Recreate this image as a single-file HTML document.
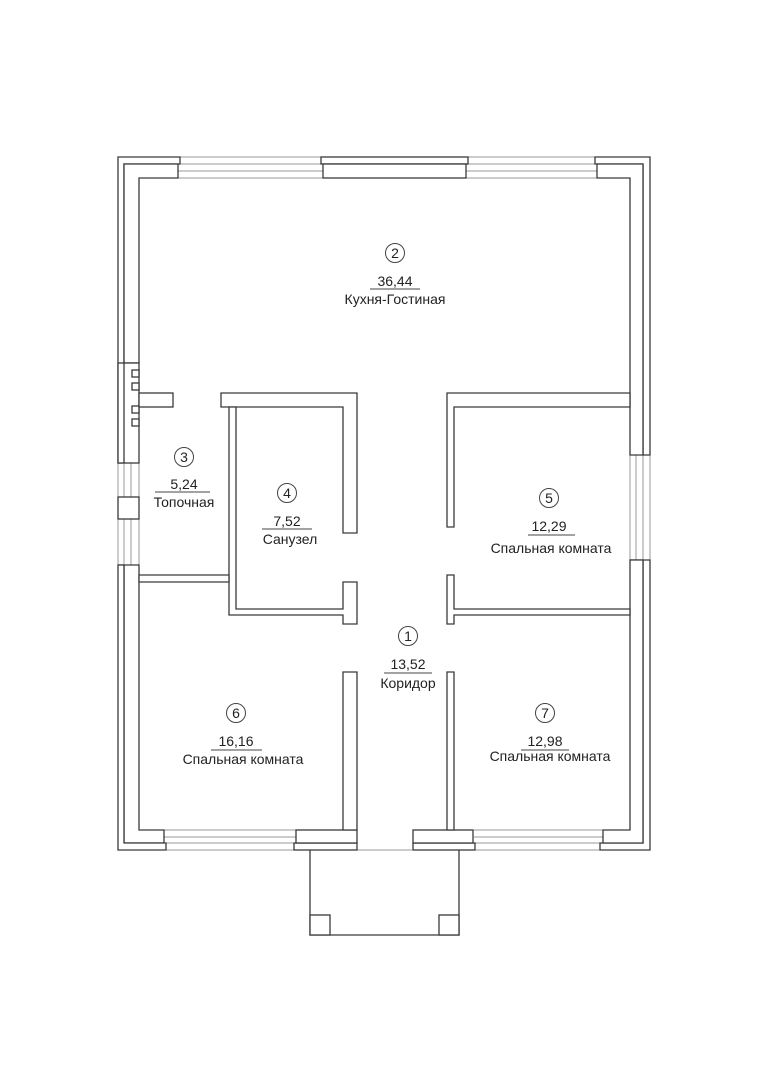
<!DOCTYPE html>
<html><head><meta charset="utf-8"><style>
html,body{margin:0;padding:0;background:#fff;}
svg{display:block}
text{font-family:"Liberation Sans","DejaVu Sans",sans-serif;fill:#222;}
</style></head><body>
<svg width="764" height="1080" viewBox="0 0 764 1080" xmlns="http://www.w3.org/2000/svg">
<g fill="#fff" stroke="#3a3a3a" stroke-width="1.3">
<g stroke="#999" stroke-width="1">
<line x1="178" y1="157" x2="323" y2="157"/><line x1="178" y1="164" x2="323" y2="164"/><line x1="178" y1="171" x2="323" y2="171"/><line x1="178" y1="178" x2="323" y2="178"/>
<line x1="466" y1="157" x2="597" y2="157"/><line x1="466" y1="164" x2="597" y2="164"/><line x1="466" y1="171" x2="597" y2="171"/><line x1="466" y1="178" x2="597" y2="178"/>
<line x1="164" y1="830" x2="296" y2="830"/><line x1="164" y1="837" x2="296" y2="837"/><line x1="164" y1="843" x2="296" y2="843"/><line x1="164" y1="850" x2="296" y2="850"/>
<line x1="474" y1="830" x2="603" y2="830"/><line x1="474" y1="837" x2="603" y2="837"/><line x1="474" y1="843" x2="603" y2="843"/><line x1="474" y1="850" x2="603" y2="850"/>
<line x1="630" y1="455" x2="630" y2="560"/><line x1="636" y1="455" x2="636" y2="560"/><line x1="643" y1="455" x2="643" y2="560"/><line x1="650" y1="455" x2="650" y2="560"/>
<line x1="118" y1="463" x2="118" y2="565"/><line x1="124" y1="463" x2="124" y2="565"/><line x1="131" y1="463" x2="131" y2="565"/><line x1="139" y1="463" x2="139" y2="565"/>
<line x1="356" y1="850" x2="412" y2="850"/>
</g>
<path d="M118,463 L118,157 L180,157 L180,164 L124,164 L124,463 Z"/>
<path d="M124,363 L124,164 L178,164 L178,178 L139,178 L139,363 Z"/>
<rect x="118" y="363" width="21" height="100"/>
<line x1="124" y1="363" x2="124" y2="463"/>
<rect x="132" y="370" width="7" height="7"/><rect x="132" y="383" width="7" height="7"/>
<rect x="132" y="406" width="7" height="7"/><rect x="132" y="419" width="7" height="7"/>
<rect x="118" y="497" width="21" height="22"/>
<rect x="321" y="157" width="147" height="7"/>
<rect x="323" y="164" width="143" height="14"/>
<path d="M595,157 L650,157 L650,455 L643,455 L643,164 L595,164 Z"/>
<path d="M597,164 L643,164 L643,455 L630,455 L630,178 L597,178 Z"/>
<path d="M630,560 L650,560 L650,850 L600,850 L600,843 L643,843 L643,560 Z"/>
<path d="M630,560 L643,560 L643,843 L603,843 L603,830 L630,830 Z"/>
<path d="M118,565 L139,565 L139,830 L164,830 L164,843 L124,843 L124,565 Z"/>
<path d="M118,565 L124,565 L124,843 L166,843 L166,850 L118,850 Z"/>
<rect x="294" y="843" width="63" height="7"/><rect x="296" y="830" width="61" height="13"/>
<rect x="413" y="843" width="62" height="7"/><rect x="413" y="830" width="60" height="13"/>
<path d="M310,850 L310,935 L459,935 L459,850" fill="none"/>
<rect x="310" y="915" width="20" height="20"/><rect x="439" y="915" width="20" height="20"/>
<path d="M343,672 L357,672 L357,830 L343,830 Z"/>
<path d="M447,672 L454,672 L454,830 L447,830 Z"/>
<rect x="139" y="393" width="34" height="14"/>
<path d="M221,393 L357,393 L357,533 L343,533 L343,407 L221,407 Z"/>
<path d="M229,407 L236,407 L236,609 L343,609 L343,582 L357,582 L357,624 L343,624 L343,615 L229,615 Z"/>
<path d="M139,575 L229,575 L229,582 L139,582 Z"/>
<path d="M447,393 L630,393 L630,407 L454,407 L454,527 L447,527 Z"/>
<path d="M447,575 L454,575 L454,609 L630,609 L630,615 L454,615 L454,624 L447,624 Z"/>
</g>
<g fill="none" stroke="#444" stroke-width="1">
<circle cx="395" cy="253" r="9.5"/><line x1="370" y1="289" x2="420" y2="289"/>
<circle cx="184" cy="457" r="9.5"/><line x1="155" y1="492" x2="210" y2="492"/>
<circle cx="287" cy="493" r="9.5"/><line x1="262" y1="529" x2="312" y2="529"/>
<circle cx="549" cy="498" r="9.5"/><line x1="528" y1="535" x2="575" y2="535"/>
<circle cx="408" cy="636" r="9.5"/><line x1="384" y1="673" x2="432" y2="673"/>
<circle cx="236" cy="713" r="9.5"/><line x1="211" y1="750" x2="262" y2="750"/>
<circle cx="545" cy="713" r="9.5"/><line x1="521" y1="750" x2="569" y2="750"/>
</g>
<g font-size="14" text-anchor="middle">
<text x="395" y="258">2</text><text x="395" y="286">36,44</text><text x="395" y="304">Кухня-Гостиная</text>
<text x="184" y="462">3</text><text x="184" y="489">5,24</text><text x="184" y="507">Топочная</text>
<text x="287" y="498">4</text><text x="287" y="526">7,52</text><text x="290" y="544">Санузел</text>
<text x="549" y="503">5</text><text x="549" y="531">12,29</text><text x="551" y="553">Спальная комната</text>
<text x="408" y="641">1</text><text x="408" y="669">13,52</text><text x="408" y="688">Коридор</text>
<text x="236" y="718">6</text><text x="236" y="746">16,16</text><text x="243" y="764">Спальная комната</text>
<text x="545" y="718">7</text><text x="545" y="746">12,98</text><text x="550" y="761">Спальная комната</text>
</g>
</svg>
</body></html>
